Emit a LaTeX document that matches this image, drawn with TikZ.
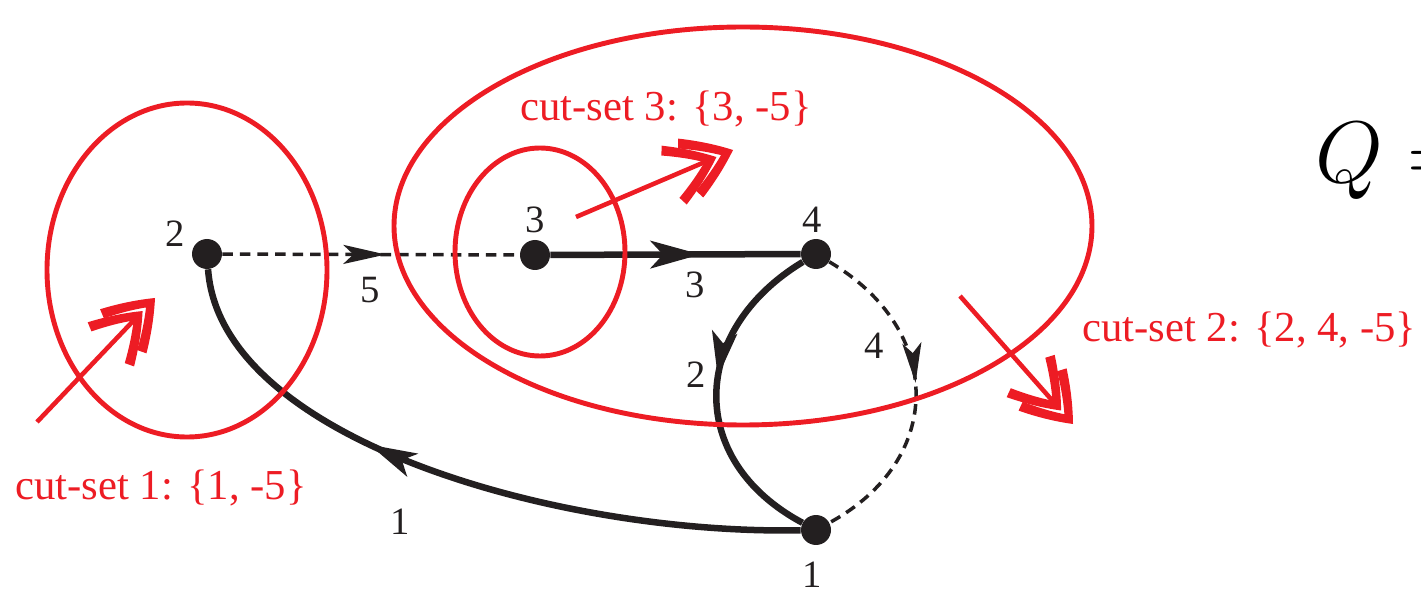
\documentclass[tikz,border=0pt]{standalone}
\usepackage{fontspec}
\setmainfont{Liberation Serif}
\usetikzlibrary{arrows.meta,decorations.markings}
\definecolor{cred}{RGB}{237,28,36}
\definecolor{cblk}{RGB}{35,31,32}
\tikzset{
  dot/.style={circle,fill=cblk,inner sep=0pt,minimum size=0.6cm},
  solidedge/.style={draw=cblk,line width=3.7pt},
  dashedge/.style={draw=cblk,line width=2pt,dash pattern=on 6pt off 4pt},
  midarrow/.style 2 args={postaction={decorate},decoration={markings,mark=at position #1 with {\arrow{#2}}}},
  cutell/.style={draw=cred,line width=2.8pt},
  cutline/.style={draw=cred,line width=2.6pt,shorten >=0.46cm},
  cuttext/.style={text=cred,font=\fontsize{24.3}{28}\selectfont,anchor=base west,inner sep=0pt},
  num/.style={text=cblk,font=\fontsize{22}{26}\selectfont,inner sep=0pt},
  dchev/.pic={
    \fill[cred] (0,0) .. controls (-14.5,12.5) and (-30,23) .. (-46,32) -- (-50,23)
      .. controls (-36.5,16) and (-24,8.3) .. (-13,0)
      .. controls (-24,-8.3) and (-36.5,-16) .. (-50,-23) -- (-46,-32)
      .. controls (-30,-23) and (-14.5,-12.5) .. cycle;
    \fill[cred] (-18,0) .. controls (-32.5,12.5) and (-48,23) .. (-64,32) -- (-68,23)
      .. controls (-54.5,16) and (-42,8.3) .. (-31,0)
      .. controls (-42,-8.3) and (-54.5,-16) .. (-68,-23) -- (-64,-32)
      .. controls (-48,-23) and (-32.5,-12.5) .. cycle;
  }
}
\begin{document}
\begin{tikzpicture}[x=0.02cm,y=-0.02cm]
\useasboundingbox (0,0) rectangle (1421,594);
\clip (0,0) rectangle (1421,594);
% vertices
\node[dot] (n2) at (207,254) {};
\node[dot] (n3) at (535,255) {};
\node[dot] (n4) at (816,254) {};
\node[dot] (n1) at (816,530) {};
% edges
\draw[dashedge,midarrow={0.55}{Stealth[length=0.85cm,width=0.38cm,inset=0.2cm]}] (n2) -- (n3);
\draw[solidedge,midarrow={0.6}{Stealth[length=1.0cm,width=0.55cm,inset=0.25cm]}] (n3) -- (n4);
\draw[solidedge,midarrow={0.45}{Stealth[length=0.9cm,width=0.5cm,inset=0.22cm]}] (n4) .. controls (690,330) and (685,460) .. (n1);
\draw[dashedge,midarrow={0.47}{Stealth[length=0.8cm,width=0.38cm,inset=0.2cm]}] (n4) .. controls (945,330) and (945,460) .. (n1);
\draw[solidedge,midarrow={0.64}{Stealth[length=0.95cm,width=0.5cm,inset=0.23cm]}] (n1) .. controls (560,535) and (220,440) .. (n2);
% vertex labels
\node[num] (l2) at (175,234) {2};
\node[num] (l3) at (535,220) {3};
\node[num] (l4) at (812,220) {4};
\node[num] (l1) at (812,575) {1};
% edge labels
\node[num] (e5) at (370,290) {5};
\node[num] (e3) at (695,285) {3};
\node[num] (e2) at (696,375) {2};
\node[num] (e4) at (874,346) {4};
\node[num] (e1) at (400,522) {1};
% cut-set ellipses
\draw[cutell] (187,270) ellipse [x radius=140,y radius=167];
\draw[cutell] (743,226) ellipse [x radius=349,y radius=199];
\draw[cutell] (540,252) ellipse [x radius=85,y radius=104];
% cut-set arrows
\coordinate (a1s) at (37,422);
\coordinate (a1e) at (155,298);
\coordinate (a3s) at (576,217);
\coordinate (a3e) at (733,150);
\coordinate (a2s) at (960,296);
\coordinate (a2e) at (1073,424);
\draw[cutline] (a1s) -- (a1e);
\pic[rotate=46.4] at (a1e) {dchev};
\draw[cutline] (a3s) -- (a3e);
\pic[rotate=23.1] at (a3e) {dchev};
\draw[cutline] (a2s) -- (a2e);
\pic[rotate=-48.6] at (a2e) {dchev};
% cut-set texts
\node[cuttext] (t1) at (15,500) {cut-set 1: \{1, -5\}};
\node[cuttext] (t3) at (520,121) {cut-set 3: \{3, -5\}};
\node[cuttext] (t2) at (1082,342) {cut-set 2: \{2, 4, -5\}};
% Q
\node[anchor=base west,inner sep=0pt,scale=2.4,text=black] (q) at (1315,183) {\huge $Q =$};
\end{tikzpicture}
\end{document}
